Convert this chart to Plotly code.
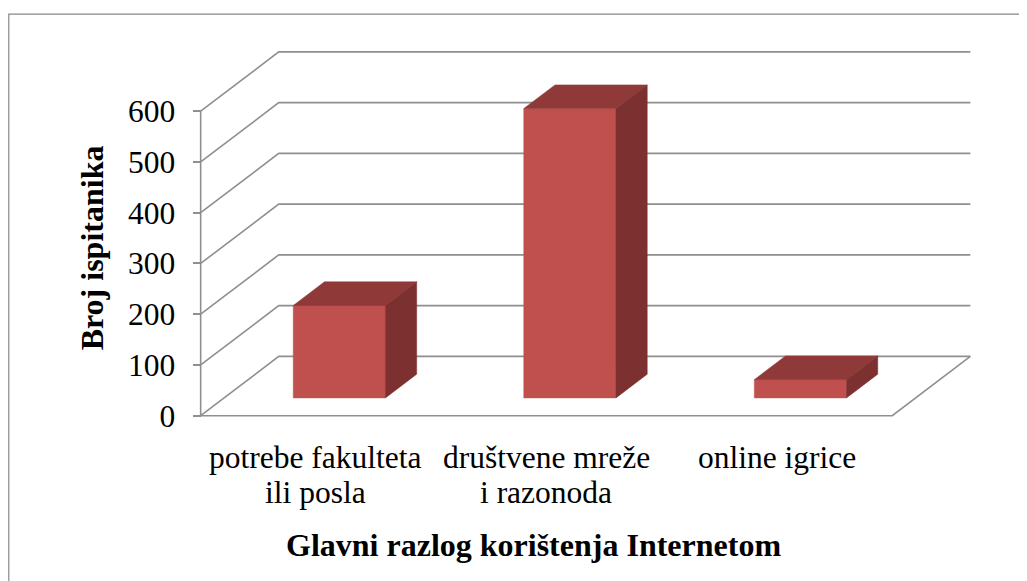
import plotly.graph_objects as go

# ---- data ----
categories = ["potrebe fakulteta<br>ili posla", "društvene mreže<br>i razonoda", "online igrice"]
values = [182, 570, 36]
y_ticks = [0, 100, 200, 300, 400, 500, 600]
y_tick_labels = ["0", "100", "200", "300", "400", "500", "600"]
x_title = "Glavni razlog korištenja Internetom"
y_title = "Broj ispitanika"

# ---- geometry / style ----
W, H = 1027, 581
OFF = 8            # page body margin
PX_X = 230.33      # pixels per category unit
PX_Y = 0.5072      # pixels per value unit
X0_PX, Y0_PX = 201.0 - OFF, 415.3 - OFF
XR = [-0.12, 3.45]
YR = [-40, 760]
DX = 78 / PX_X     # full depth offset in x units
DY = 59.3 / PX_Y   # full depth offset in value units
D0, D1 = 0.30, 0.70
BAR_W = 0.40
FONT = "Liberation Serif"
GRID = "#8f8f8f"
FRONT, TOP, SIDE = "#C0504D", "#8F3A38", "#7C3030"

l = X0_PX + XR[0] * PX_X
pw = (XR[1] - XR[0]) * PX_X
r = W - l - pw
t = Y0_PX - YR[1] * PX_Y
bpx = Y0_PX - YR[0] * PX_Y
b = H - bpx
ph = bpx - t

n = len(categories)
fig = go.Figure()

# walls / gridlines
gx, gy = [], []
for v in y_ticks:
    gx += [0, DX, n + DX, None]
    gy += [v, v + DY, v + DY, None]
gx += [0, n, n + DX, None, 0, 0]
gy += [0, 0, DY, None, 0, y_ticks[-1]]
fig.add_trace(go.Scatter(x=gx, y=gy, mode="lines", line=dict(color=GRID, width=1.6),
                         hoverinfo="skip", showlegend=False))

# bars
for i, v in enumerate(values):
    base = D0 * DY
    xl = i + 0.5 - BAR_W / 2 + D0 * DX
    xr = xl + BAR_W
    sdx = (D1 - D0) * DX
    sdy = (D1 - D0) * DY
    faces = [
        ([xl, xr, xr, xl, xl], [base, base, base + v, base + v, base], FRONT),
        ([xl, xr, xr + sdx, xl + sdx, xl], [base + v, base + v, base + v + sdy, base + v + sdy, base + v], TOP),
        ([xr, xr + sdx, xr + sdx, xr, xr], [base, base + sdy, base + v + sdy, base + v, base], SIDE),
    ]
    for fx, fy, c in faces:
        fig.add_trace(go.Scatter(x=fx, y=fy, mode="lines", fill="toself", fillcolor=c,
                                 line=dict(color=c, width=0.5), hoverinfo="skip",
                                 showlegend=False))

# category labels
annotations = []
for i, lab in enumerate(categories):
    for k, line in enumerate(lab.split("<br>")):
        annotations.append(dict(x=i + 0.5, y=0, xref="x", yref="y", text=line,
                                showarrow=False, xanchor="center", yanchor="middle",
                                yshift=-(41.5 + 35.5 * k),
                                font=dict(family=FONT, size=31.5, color="black")))

def px2paper_x(p):
    return (p - OFF - l) / pw

def px2paper_y(p):
    return (bpx - (p - OFF)) / ph

annotations.append(dict(x=px2paper_x(533.5), y=px2paper_y(545), xref="paper", yref="paper",
                        text="<b>" + x_title + "</b>", showarrow=False,
                        xanchor="center", yanchor="middle",
                        font=dict(family=FONT, size=32, color="black")))
annotations.append(dict(x=px2paper_x(92), y=px2paper_y(247.5), xref="paper", yref="paper",
                        text="<b>" + y_title + "</b>", showarrow=False, textangle=-90,
                        xanchor="center", yanchor="middle",
                        font=dict(family=FONT, size=32, color="black")))

fig.update_layout(
    width=W, height=H,
    margin=dict(l=l, r=r, t=t, b=b, autoexpand=False),
    paper_bgcolor="white", plot_bgcolor="white",
    xaxis=dict(range=XR, showgrid=False, zeroline=False, showline=False,
               showticklabels=False, ticks=""),
    yaxis=dict(range=YR, showgrid=False, zeroline=False, showline=False,
               anchor="free", position=(X0_PX - l) / pw,
               tickmode="array", tickvals=y_ticks, ticktext=y_tick_labels,
               ticks="outside", ticklen=8, tickwidth=1.6, tickcolor=GRID,
               ticklabelstandoff=11,
               tickfont=dict(family=FONT, size=31.5, color="black")),
    annotations=annotations,
    shapes=[dict(type="rect", xref="paper", yref="paper",
                 x0=px2paper_x(9.3), x1=px2paper_x(1060),
                 y0=px2paper_y(14), y1=px2paper_y(620),
                 line=dict(color="#888888", width=1.2), fillcolor="rgba(0,0,0,0)")],
)

fig.write_html("out.html")
